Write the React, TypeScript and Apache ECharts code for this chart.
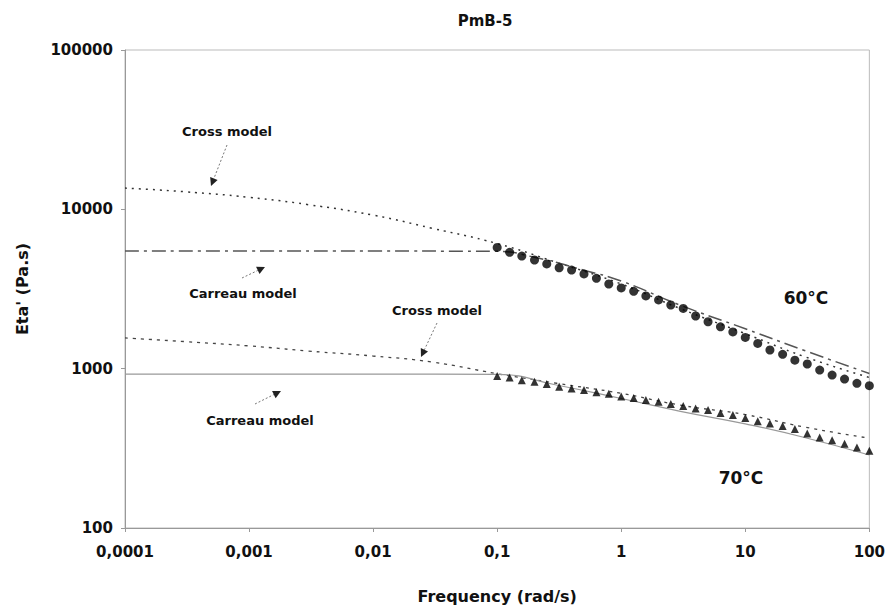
import React, { useEffect, useRef } from "react";
import * as echarts from "echarts";

// ---------- data ----------
const xTickLabels = ["0,0001", "0,001", "0,01", "0,1", "1", "10", "100"];
const yTickLabels = ["100", "1000", "10000", "100000"];

// measured frequencies (rad/s), 10 points per decade from 0.1 to 100
const freq = [
  0.1, 0.126, 0.158, 0.2, 0.251, 0.316, 0.398, 0.501, 0.631, 0.794,
  1, 1.26, 1.58, 2, 2.51, 3.16, 3.98, 5.01, 6.31, 7.94,
  10, 12.6, 15.8, 20, 25.1, 31.6, 39.8, 50.1, 63.1, 79.4, 100,
];
const eta60 = [
  5770, 5370, 5090, 4810, 4540, 4300, 4160, 3930, 3690, 3400,
  3210, 3060, 2860, 2700, 2510, 2390, 2140, 1970, 1830, 1700,
  1570, 1440, 1310, 1230, 1130, 1070, 980, 912, 861, 809, 782,
];
const eta70 = [
  899, 881, 845, 827, 800, 769, 752, 734, 712, 695,
  668, 655, 635, 620, 600, 583, 563, 550, 527, 511,
  490, 468, 452, 436, 418, 392, 370, 356, 338, 320, 305,
];

// model curves
const cross60F = [0.0001, 0.0003, 0.001, 0.003, 0.01, 0.03, 0.1, 0.3, 1, 3, 10, 30, 100];
const cross60V = [13600, 12900, 11900, 10700, 9200, 7600, 6100, 4650, 3400, 2380, 1660, 1190, 880];
const carreau60F = [0.0001, 0.001, 0.01, 0.1, 0.2, 0.5, 1, 3, 10, 30, 100];
const carreau60V = [5470, 5470, 5470, 5450, 5000, 4150, 3550, 2500, 1780, 1300, 933];
const cross70F = [0.0001, 0.0003, 0.001, 0.003, 0.01, 0.03, 0.1, 0.3, 1, 3, 10, 30, 100];
const cross70V = [1560, 1480, 1390, 1290, 1200, 1100, 930, 810, 700, 590, 515, 430, 366];
const carreau70F = [0.0001, 0.001, 0.01, 0.1, 0.3, 1, 3, 10, 30, 100];
const carreau70V = [925, 925, 925, 920, 790, 650, 540, 450, 370, 287];

const FONT = "DejaVu Sans";

function zip(xs: number[], ys: number[]) {
  return xs.map((x, i) => [x, ys[i]]);
}

function arrow(x1: number, y1: number, x2: number, y2: number) {
  const dx = x2 - x1;
  const dy = y2 - y1;
  const len = Math.sqrt(dx * dx + dy * dy);
  const ux = dx / len;
  const uy = dy / len;
  const hl = 8;
  const hw = 4;
  const bx = x2 - ux * hl;
  const by = y2 - uy * hl;
  return [
    {
      type: "line",
      shape: { x1, y1, x2: bx, y2: by },
      style: { stroke: "#777", lineWidth: 1, lineDash: [2, 2] },
    },
    {
      type: "polygon",
      shape: {
        points: [
          [x2, y2],
          [bx - uy * hw, by + ux * hw],
          [bx + uy * hw, by - ux * hw],
        ],
      },
      style: { fill: "#222" },
    },
  ];
}

function label(text: string, x: number, y: number, size: number, weight: string) {
  return {
    type: "text",
    x,
    y,
    style: {
      text,
      fill: "#111",
      font: `${weight} ${size}px "${FONT}"`,
      align: "center",
      verticalAlign: "middle",
    },
  };
}

export default function App() {
  const ref = useRef<HTMLDivElement>(null);
  useEffect(() => {
    if (!ref.current) return;
    const chart = echarts.init(ref.current, null, { renderer: "svg" });
    chart.setOption({
      animation: false,
      backgroundColor: "#fff",
      title: {
        text: "PmB-5",
        left: 480,
        top: 8,
        textAlign: "center",
        textStyle: { fontFamily: FONT, fontSize: 15, fontWeight: "bold", color: "#111" },
      },
      grid: {
        left: 125,
        right: 18,
        top: 50,
        bottom: 82,
        show: true,
        borderColor: "#bbb",
        borderWidth: 1,
      },
      xAxis: {
        type: "log",
        logBase: 10,
        min: 0.0001,
        max: 100,
        splitNumber: 6,
        name: "Frequency (rad/s)",
        nameLocation: "middle",
        nameGap: 60,
        nameTextStyle: { fontFamily: FONT, fontSize: 16, fontWeight: "bold", color: "#111" },
        axisLine: { lineStyle: { color: "#999", width: 1 } },
        axisTick: { show: true, length: 4, lineStyle: { color: "#999" } },
        splitLine: { show: false },
        minorTick: { show: false },
        axisLabel: {
          margin: 16,
          fontFamily: FONT,
          fontSize: 15,
          fontWeight: "bold",
          color: "#111",
          formatter: (v: number) => {
            const i = Math.round(Math.log10(v)) + 4;
            return xTickLabels[i] ?? "";
          },
        },
      },
      yAxis: {
        type: "log",
        logBase: 10,
        min: 100,
        max: 100000,
        splitNumber: 3,
        name: "Eta' (Pa.s)",
        nameLocation: "middle",
        nameGap: 95,
        nameTextStyle: { fontFamily: FONT, fontSize: 16, fontWeight: "bold", color: "#111" },
        axisLine: { show: true, lineStyle: { color: "#999", width: 1 } },
        axisTick: { show: true, length: 4, lineStyle: { color: "#999" } },
        splitLine: { show: false },
        axisLabel: {
          margin: 12,
          fontFamily: FONT,
          fontSize: 15,
          fontWeight: "bold",
          color: "#111",
          formatter: (v: number) => {
            const i = Math.round(Math.log10(v)) - 2;
            return yTickLabels[i] ?? "";
          },
        },
      },
      series: [
        {
          name: "Cross model 60°C",
          type: "line",
          data: zip(cross60F, cross60V),
          smooth: true,
          symbol: "none",
          lineStyle: { color: "#333", width: 1.5, type: [2, 5] },
        },
        {
          name: "Carreau model 60°C",
          type: "line",
          data: zip(carreau60F, carreau60V),
          smooth: true,
          symbol: "none",
          lineStyle: { color: "#555", width: 1.5, type: [14, 5, 3, 5] },
        },
        {
          name: "Cross model 70°C",
          type: "line",
          data: zip(cross70F, cross70V),
          smooth: true,
          symbol: "none",
          lineStyle: { color: "#444", width: 1.3, type: [3, 5] },
        },
        {
          name: "Carreau model 70°C",
          type: "line",
          data: zip(carreau70F, carreau70V),
          smooth: true,
          symbol: "none",
          lineStyle: { color: "#999", width: 1.2, type: "solid" },
        },
        {
          name: "60°C",
          type: "scatter",
          data: zip(freq, eta60),
          symbol: "circle",
          symbolSize: 9,
          itemStyle: { color: "#000" },
          z: 5,
        },
        {
          name: "70°C",
          type: "scatter",
          data: zip(freq, eta70),
          symbol: "triangle",
          symbolSize: 8,
          itemStyle: { color: "#000" },
          z: 5,
        },
      ],
      graphic: [
        label("Cross model", 227, 131, 13, "bold"),
        ...arrow(227, 145, 211, 186),
        label("Carreau model", 243, 293, 13, "bold"),
        ...arrow(242, 278, 265, 267),
        label("Cross model", 437, 310, 13, "bold"),
        ...arrow(437, 323, 421, 357),
        label("Carreau model", 260, 420, 13, "bold"),
        ...arrow(255, 404, 281, 391),
        label("60°C", 806, 298, 17, "bold"),
        label("70°C", 741, 478, 17, "bold"),
      ],
    });
    return () => chart.dispose();
  }, []);
  return (
    <div
      ref={ref}
      style={{ position: "absolute", left: 0, top: 0, width: 888, height: 610 }}
    />
  );
}
